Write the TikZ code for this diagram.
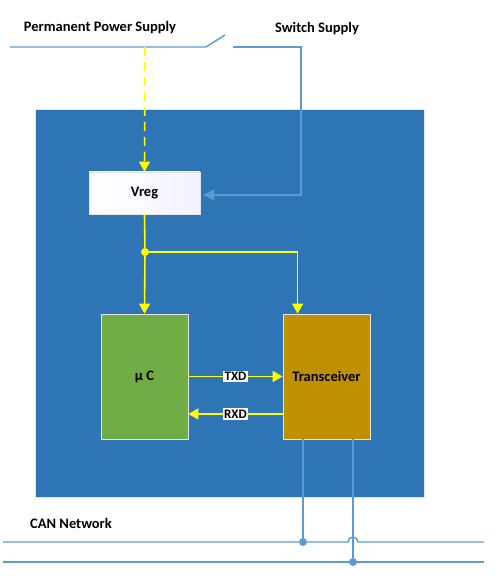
\documentclass[tikz,border=0pt]{standalone}
\usepackage{fontspec}
\setmainfont{Carlito}
\usepackage{tikz}
\usetikzlibrary{arrows.meta,positioning,calc}
\definecolor{boardblue}{RGB}{46,117,182}
\definecolor{wireblue}{RGB}{91,155,213}
\definecolor{ucgreen}{RGB}{112,173,71}
\definecolor{trxgold}{RGB}{191,144,0}
\definecolor{pwryellow}{RGB}{255,255,0}

\begin{document}
\begin{tikzpicture}[
  x=1pt, y=1pt,
  font=\fontsize{14.5}{16}\selectfont\bfseries,
  box/.style = {rectangle, draw=white!80!gray, line width=0.8pt,
                inner sep=0pt, minimum width=87pt, minimum height=125pt},
  wire/.style = {draw=wireblue, line width=1.4pt},
  pwr/.style = {draw=pwryellow, line width=1.6pt},
  arrow/.style = {-{Triangle[length=10pt,width=11pt]}},
  sig/.style = {fill=white, inner sep=1.5pt, font=\fontsize{13}{14}\selectfont\bfseries},
  dot/.style = {circle, inner sep=0pt, minimum size=8pt},
]
\useasboundingbox (0,0) rectangle (501,580);

% ECU housing and blocks
\node[rectangle, fill=boardblue, draw=white!85!boardblue, line width=0.6pt,
      minimum width=389pt, minimum height=388pt] (board) at (229.5,277) {};
\node[box, minimum width=111pt, minimum height=42pt,
      left color=white, right color=blue!5] (vreg) at (144.5,387) {Vreg};
\node[box, fill=ucgreen] (uc) at (144.5,203.5) {µ C};
\node[box, fill=trxgold] (trx) at (326.5,203.5) {Transceiver};

% supply lines
\node (pps) at (100,552) {Permanent Power Supply};
\node (sws) at (317,551) {Switch Supply};
\coordinate (pp) at (10,533);
\coordinate (swa) at (206,533);
\coordinate (swb) at (225,545);
\coordinate (ss) at (233,533);
\coordinate (sscorner) at (301,533);
\coordinate (tap) at (145,533);

\draw[wire] (pp) -- (swa) -- (swb);
\draw[wire, -{Triangle[length=11pt,width=11pt]}]
  (ss) -- (sscorner) |- ($(vreg.east)+(3,-2)$);
\draw[pwr, arrow, dash pattern=on 9pt off 6pt] (tap) -- (vreg.north);

% regulated supply
\node[dot, fill=pwryellow] (split) at (145,328) {};
\draw[pwr] (vreg.south) -- (split);
\draw[pwr, arrow] (split) -- (uc.north);
\draw[pwr, arrow] (split) -| ($(trx.north west)+(15,0)$);

% TXD / RXD
\draw[pwr, arrow] (uc.east) -- (trx.west) node[sig, midway, text=black] {TXD};
\draw[pwr, arrow] ($(trx.west)+(0,-37.5)$) -- ($(uc.east)+(0,-37.5)$)
  node[sig, midway, text=black] {RXD};

% CAN bus
\node (can) at (71,57) {CAN Network};
\coordinate (canhl) at (3,38);
\coordinate (canhr) at (484,38);
\coordinate (canll) at (3,18);
\coordinate (canlr) at (484,18);
\node[dot, fill=wireblue] (jh) at (303,38) {};
\node[dot, fill=wireblue] (jl) at (353,18) {};

\draw[wire] (canhl) -- (jh) -- ($(jl|-canhr)+(-5,0)$)
  arc[start angle=180, end angle=0, radius=5] -- (canhr);
\draw[wire] (canll) -- (canlr);
\draw[wire] (trx.south -| jh) -- (jh);
\draw[wire] (trx.south -| jl) -- (jl);
\end{tikzpicture}
\end{document}
